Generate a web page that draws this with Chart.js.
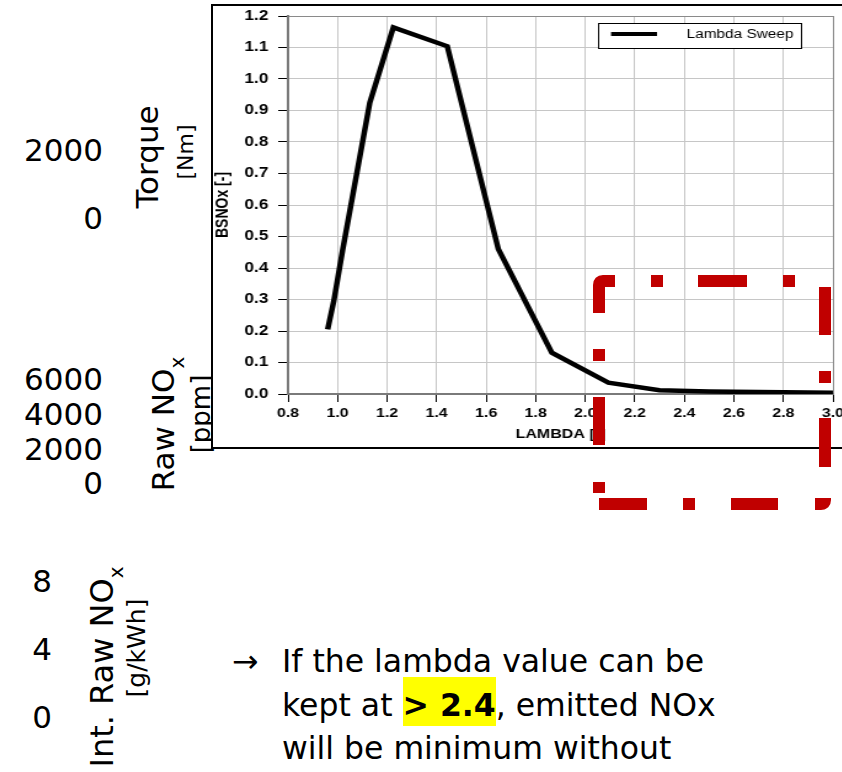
<!DOCTYPE html>
<html><head><meta charset="utf-8">
<script src="https://cdn.jsdelivr.net/npm/chart.js@4"></script>
<style>
html,body{margin:0;padding:0;background:#fff;width:842px;height:772px;overflow:hidden;position:relative;font-family:"DejaVu Sans",Verdana,sans-serif;}
.t{position:absolute;white-space:nowrap;line-height:1;color:#000;}
.num{font-size:31px;text-align:right;}
.rot{transform:translate(-50%,-50%) rotate(-90deg);}
.sub{font-size:20px;position:relative;top:10px;}
#frame{position:absolute;left:211px;top:4px;width:720px;height:440.5px;border:2.5px solid #000;background:#fff;}
#wrap{position:absolute;left:213px;top:6px;width:520px;height:441px;transform:scaleX(1.23);transform-origin:0 0;}
.hl{background:#ffff00;padding:10px 0 3px 0;}
#red{position:absolute;left:0;top:0;}
</style></head>
<body>
<div class="t num" style="left:0;width:103px;top:135px">2000</div>
<div class="t num" style="left:0;width:103px;top:203px">0</div>
<div class="t rot" style="left:147px;top:157px;font-size:31px">Torque</div>
<div class="t rot" style="left:186px;top:152px;font-size:22px">[Nm]</div>

<div class="t num" style="left:0;width:103px;top:364px">6000</div>
<div class="t num" style="left:0;width:103px;top:399px">4000</div>
<div class="t num" style="left:0;width:103px;top:434px">2000</div>
<div class="t num" style="left:0;width:103px;top:468px">0</div>
<div class="t rot" style="left:163px;top:424px;font-size:31px">Raw NO<span class="sub">x</span></div>
<div class="t rot" style="left:201px;top:414px;font-size:26px">[ppm]</div>

<div class="t num" style="left:0;width:52px;top:566px">8</div>
<div class="t num" style="left:0;width:52px;top:634px">4</div>
<div class="t num" style="left:0;width:52px;top:702px">0</div>
<div class="t rot" style="left:102px;top:667px;font-size:32px">Int. Raw NO<span class="sub">x</span></div>
<div class="t rot" style="left:136px;top:648px;font-size:25px">[g/kWh]</div>

<div class="t" style="left:232px;top:640px;font-size:31.5px;line-height:43.5px">→</div>
<div class="t" style="left:282px;top:640px;font-size:31.5px;line-height:43.5px">If the lambda value can be<br>kept at <span class="hl"><b>&gt; 2.4</b></span>, emitted NOx<br>will be minimum without</div>

<div id="frame"></div>
<div id="wrap"><canvas id="c"></canvas></div>

<svg id="red" width="842" height="772" xmlns="http://www.w3.org/2000/svg">
 <g fill="#c00000">
  <rect x="651" y="275" width="12" height="12"/>
  <rect x="698" y="275" width="49" height="12"/>
  <rect x="783" y="275" width="12" height="12"/>
  <rect x="819" y="287" width="12" height="48"/>
  <rect x="819" y="371" width="12" height="12"/>
  <rect x="819" y="418" width="12" height="49"/>
  <rect x="599" y="498" width="48" height="12"/>
  <rect x="683" y="498" width="12" height="12"/>
  <rect x="731" y="498" width="47" height="12"/>
  <rect x="593" y="349" width="12" height="12"/>
  <rect x="593" y="397" width="12" height="48"/>
  <rect x="593" y="482" width="12" height="11"/>
 </g>
 <g fill="none" stroke="#c00000" stroke-width="12" stroke-linecap="butt">
  <path d="M599 313 V285 Q599 281 603 281 H615"/>
  <path d="M815 504 H821 Q825 504 825 500 V498"/>
 </g>
</svg>

<script>
const lambdaValues = [0.96, 0.985, 1.02, 1.13, 1.225, 1.443, 1.649, 1.865, 2.093, 2.30, 2.5, 2.7, 3.0];
const bsnoxValues  = [0.205, 0.296, 0.455, 0.925, 1.164, 1.104, 0.46, 0.131, 0.036, 0.012, 0.008, 0.006, 0.004];
const xTickValues = [0.8, 1.0, 1.2, 1.4, 1.6, 1.8, 2.0, 2.2, 2.4, 2.6, 2.8, 3.0];
const yTickValues = [0.0, 0.1, 0.2, 0.3, 0.4, 0.5, 0.6, 0.7, 0.8, 0.9, 1.0, 1.1, 1.2];
const seriesLabel = 'Lambda Sweep';
const xTitle = 'LAMBDA [-]';
const yTitle = 'BSNOx [-]';

const FONT = "'Liberation Sans', Arial, sans-serif";

const legendBox = {
  id: 'legendBox',
  afterDraw(chart) {
    const {ctx, chartArea: a} = chart;
    const ds = chart.data.datasets[0];
    const left = a.right - 191, right = a.right - 26, top = a.top + 7, bottom = a.top + 32;
    ctx.save();
    ctx.fillStyle = '#fff';
    ctx.fillRect(left, top, right - left, bottom - top);
    ctx.strokeStyle = '#000';
    ctx.lineWidth = 1;
    ctx.strokeRect(left + 0.5, top + 0.5, right - left, bottom - top);
    ctx.strokeStyle = ds.borderColor;
    ctx.lineWidth = 4;
    ctx.beginPath();
    ctx.moveTo(left + 10.6, a.top + 18);
    ctx.lineTo(left + 48, a.top + 18);
    ctx.stroke();
    ctx.fillStyle = '#000';
    ctx.font = '12.5px ' + FONT;
    ctx.textBaseline = 'middle';
    ctx.textAlign = 'left';
    ctx.fillText(ds.label, left + 72, a.top + 19);
    ctx.restore();
  }
};

const near = (a, b) => Math.abs(a - b) < 1e-6;

new Chart(document.getElementById('c'), {
  type: 'scatter',
  data: {
    datasets: [{
      label: seriesLabel,
      data: lambdaValues.map((x, i) => ({x, y: bsnoxValues[i]})),
      showLine: true,
      borderColor: '#000',
      backgroundColor: '#000',
      borderWidth: 4.5,
      pointRadius: 0,
      tension: 0,
      borderJoinStyle: 'miter'
    }]
  },
  options: {
    responsive: true,
    maintainAspectRatio: false,
    animation: false,
    devicePixelRatio: 1,
    layout: {padding: {top: 10, right: 16, left: 0, bottom: 0}},
    plugins: {legend: {display: false}, tooltip: {enabled: false}},
    scales: {
      x: {
        type: 'linear', min: 0.8, max: 3.0,
        afterBuildTicks: s => { s.ticks = xTickValues.map(v => ({value: v})); },
        afterFit: s => { s.height = 53; s.paddingLeft = 0; s.paddingRight = 0; },
        ticks: {color: '#000', font: {family: FONT, size: 13, weight: 'bold'}, padding: 4,
                callback: v => Number(v).toFixed(1), maxRotation: 0, autoSkip: false},
        grid: {color: c => (c.tick && near(c.tick.value, 3.0)) ? '#8a8a8a' : '#c6c6c6',
               tickColor: '#000', tickLength: 8, lineWidth: 1},
        border: {color: '#7a7a7a', width: 2},
        title: {display: true, text: xTitle, color: '#000',
                font: {family: FONT, size: 13, weight: 'bold'}, padding: {top: 0, bottom: 5}}
      },
      y: {
        type: 'linear', min: 0, max: 1.2,
        afterBuildTicks: s => { s.ticks = yTickValues.map(v => ({value: v})); },
        afterFit: s => { s.width = 61; s.paddingTop = 0; s.paddingBottom = 0; },
        ticks: {color: '#000', font: {family: FONT, size: 14, weight: 'bold'}, padding: 8,
                callback: v => Number(v).toFixed(1), autoSkip: false},
        grid: {color: c => (c.tick && near(c.tick.value, 1.2)) ? '#8a8a8a' : '#c6c6c6',
               tickColor: '#000', tickLength: 8, lineWidth: 1},
        border: {color: '#7a7a7a', width: 2},
        title: {display: true, text: yTitle, color: '#000',
                font: {family: FONT, size: 14, weight: 'bold'}, padding: {top: 0, bottom: 0}}
      }
    }
  },
  plugins: [legendBox]
});
</script>
</body></html>
